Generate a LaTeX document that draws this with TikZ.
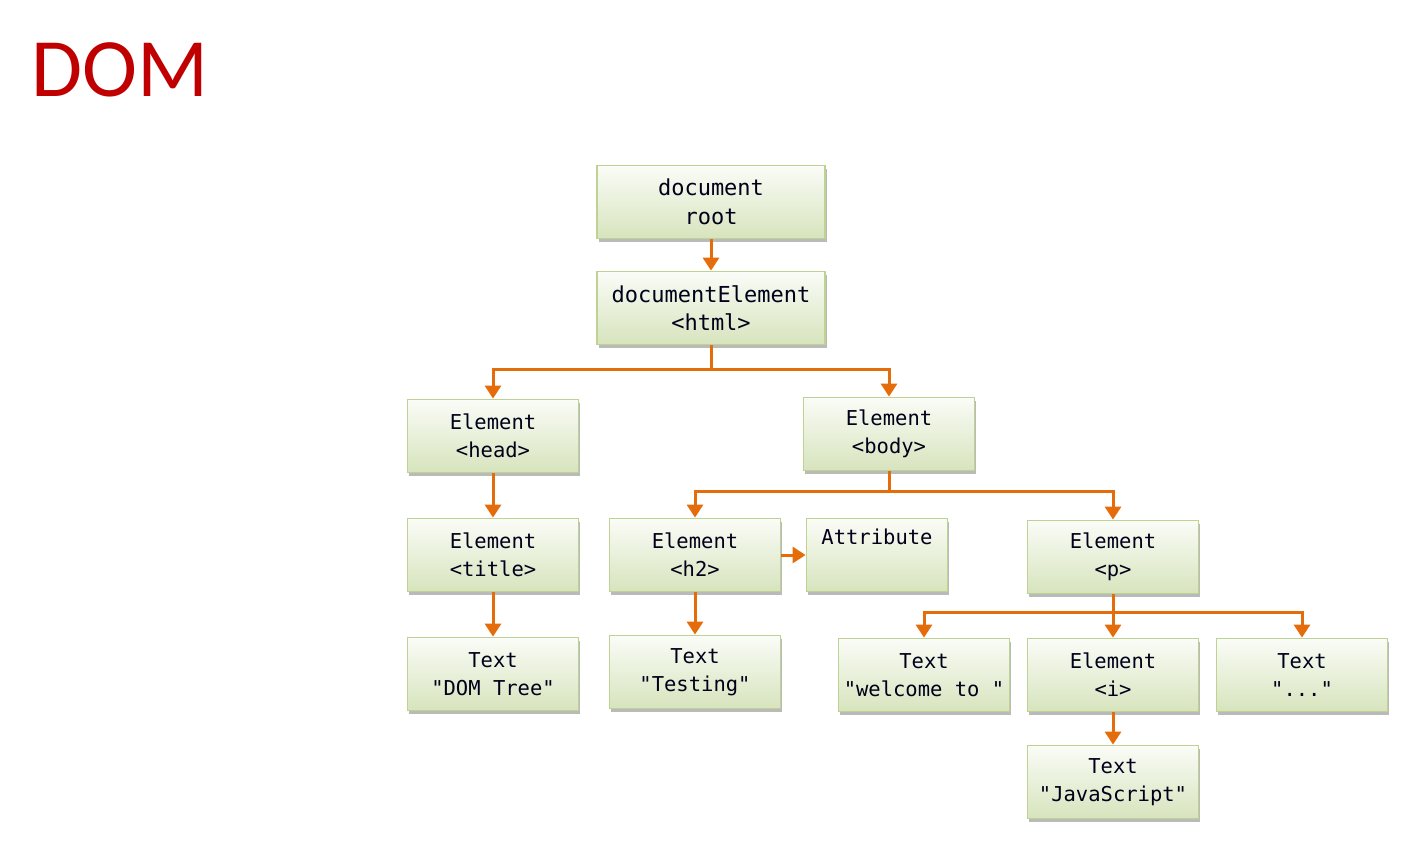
\documentclass[tikz,border=0pt]{standalone}
\usepackage{fontspec}
\setmainfont{Carlito}
\newfontfamily\domboxfont{DejaVu Sans Mono}
\usetikzlibrary{arrows.meta,shadows}
\definecolor{domred}{HTML}{C00000}
\definecolor{domorange}{HTML}{E46C0A}
\definecolor{boxline}{HTML}{BDD293}
\definecolor{boxgreen}{HTML}{D7E4BD}
\begin{document}
\begin{tikzpicture}[x=1pt,y=-1pt,
   domnode/.style={draw=boxline, line width=1.8pt,
     top color=boxgreen!12, bottom color=boxgreen,
     drop shadow={shadow xshift=1.5pt, shadow yshift=-3pt, fill=black!45, opacity=.6},
     minimum width=171pt, minimum height=73pt, inner sep=0pt, align=center,
     text=black!90!blue, font=\domboxfont\fontsize{20.5}{28}\selectfont},
   wide/.style={minimum width=228pt, font=\domboxfont\fontsize{22}{28.5}\selectfont},
   link/.style={color=domorange, line width=3pt, -{Triangle[width=16pt,length=13pt]}}]
   \useasboundingbox (0,0) rectangle (1416,847);
   \node[anchor=base west, text=domred, font=\fontsize{83}{83}\selectfont] (title) at (28,96) {DOM};
   % tree
   \node[domnode, wide] (root) at (711,202) {document\\root};
   \node[domnode, wide] (html) at (711,308) {documentElement\\<html>};
   \node[domnode] (head)  at (493,436) {Element\\<head>};
   \node[domnode] (body)  at (889,434) {Element\\<body>};
   \node[domnode] (title2) at (493,555) {Element\\<title>};
   \node[domnode] (h2)    at (695,555) {Element\\<h2>};
   \node[domnode, minimum width=141pt] (attr) at (877,555) {Attribute\\\strut};
   \node[domnode] (p)     at (1113,557) {Element\\<p>};
   \node[domnode] (tdom)  at (493,674) {Text\\"DOM Tree"};
   \node[domnode] (ttest) at (695,672) {Text\\"Testing"};
   \node[domnode] (twel)  at (924,675) {Text\\"welcome to "};
   \node[domnode] (ital)  at (1113,675) {Element\\<i>};
   \node[domnode] (tdots) at (1302,675) {Text\\"..."};
   \node[domnode] (tjs)   at (1113,782) {Text\\"JavaScript"};
   \coordinate (hsplit) at (711,369);
   \coordinate (bsplit) at (889,491);
   \coordinate (psplit) at (1113,612);
   \path[link]
     (root) edge (html)
     (head) edge (title2)
     (title2) edge (tdom)
     (h2) edge (ttest)
     (h2) edge (attr)
     (p) edge (ital)
     (ital) edge (tjs);
   \draw[domorange, line width=3pt] (html) -- (hsplit) (body) -- (bsplit) (p) -- (psplit);
   \draw[link] (hsplit) -| (head);
   \draw[link] (hsplit) -| (body);
   \draw[link] (bsplit) -| (h2);
   \draw[link] (bsplit) -| (p);
   \draw[link] (psplit) -| (twel);
   \draw[link] (psplit) -| (tdots);
\end{tikzpicture}
\end{document}
